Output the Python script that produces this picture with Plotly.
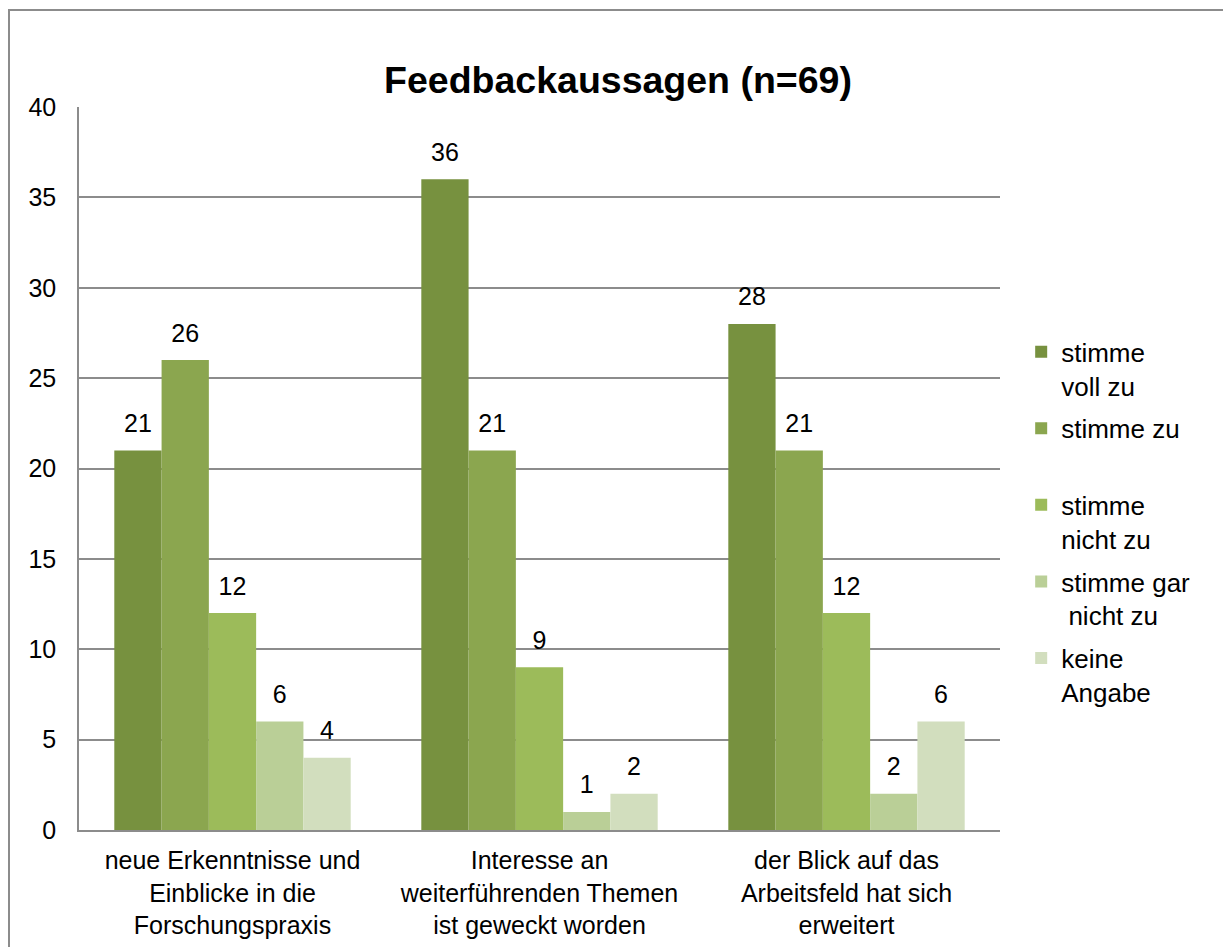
import plotly.graph_objects as go

categories = ["neue Erkenntnisse und<br>Einblicke in die<br>Forschungspraxis",
              "Interesse an<br>weiterführenden Themen<br>ist geweckt worden",
              "der Blick auf das<br>Arbeitsfeld hat sich<br>erweitert"]
series_names = ["stimme<br>voll zu", "stimme zu<br> ", "stimme<br>nicht zu",
                "stimme gar<br> nicht zu", "keine<br>Angabe"]
voll_zu = [21, 36, 28]
zu = [26, 21, 21]
nicht_zu = [12, 9, 12]
gar_nicht_zu = [6, 1, 2]
keine_angabe = [4, 2, 6]
series_values = [voll_zu, zu, nicht_zu, gar_nicht_zu, keine_angabe]
y_ticks = [0, 5, 10, 15, 20, 25, 30, 35, 40]

colors = ["#77913F", "#8BA64F", "#9CBB5A", "#BACF97", "#D2DEBE"]
font_family = "Liberation Sans, Arial, sans-serif"
grid_color = "#8c8c8c"

fig = go.Figure()
for i, (name, values) in enumerate(zip(series_names, series_values)):
    fig.add_trace(go.Bar(x=categories, y=values, name=name,
                         marker=dict(color=colors[i], line=dict(width=0)),
                         offsetgroup=str(i), legendgroup=str(i)))
for i, values in enumerate(series_values):
    # value labels above the bars, via grouped scatter traces
    fig.add_trace(go.Scatter(x=categories, y=values, mode="markers+text",
                             text=[str(v) for v in values], textposition="top center",
                             textfont=dict(size=25, color="black", family=font_family),
                             marker=dict(size=18, opacity=0),
                             offsetgroup=str(i), showlegend=False, hoverinfo="skip",
                             cliponaxis=False))

fig.update_layout(
    width=1223, height=947,
    barmode="group", bargap=0.23, bargroupgap=0,
    scattermode="group", scattergap=0.23,
    plot_bgcolor="white", paper_bgcolor="white",
    font=dict(family=font_family, size=25, color="black"),
    margin=dict(l=79, r=223, t=107, b=117),
    title=dict(text="<b>Feedbackaussagen (n=69)</b>", x=618 / 1223, xref="container",
               xanchor="center", y=1 - 80 / 947, yanchor="middle",
               font=dict(size=37.5, color="black", family=font_family)),
    legend=dict(x=1.023, y=0.694, xanchor="left", yanchor="top",
                font=dict(size=26, family=font_family), traceorder="grouped",
                tracegroupgap=6, valign="top", itemwidth=30),
    shapes=[dict(type="rect", xref="paper", yref="paper",
                 x0=(9 - 79) / 921, x1=(1260 - 79) / 921,
                 y0=-0.3, y1=(830 - 10) / 723,
                 line=dict(color="#8c8c8c", width=2), layer="below")],
)
fig.update_yaxes(range=[0, 40], tickvals=y_ticks, showgrid=True, gridcolor=grid_color,
                 gridwidth=1.5, showline=True, linecolor=grid_color, linewidth=1.5,
                 zeroline=False, ticks="", ticklabelstandoff=16, automargin=False,
                 tickfont=dict(size=25, family=font_family))
fig.update_xaxes(showline=True, linecolor=grid_color, linewidth=2, ticks="",
                 ticklabelstandoff=7, automargin=False,
                 tickfont=dict(size=25, family=font_family))

fig.write_html("out.html", config={"displayModeBar": False},
               post_script="document.body.style.margin = '0';")
